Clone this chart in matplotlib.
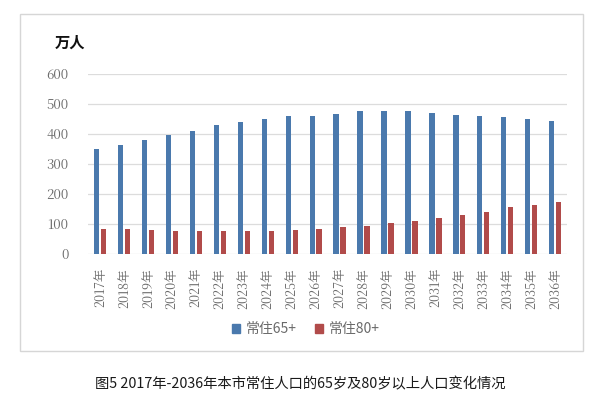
import matplotlib
matplotlib.use("Agg")
import matplotlib.pyplot as plt
import numpy as np
from matplotlib.patches import Rectangle, Patch

plt.rcParams['font.family'] = ['Noto Sans CJK SC', 'DejaVu Sans']

years = [f"{y}年" for y in range(2017, 2037)]
pop65 = [350, 362, 381, 397, 411, 429, 441, 449, 459, 459,
         466, 476, 476, 476, 470, 463, 461, 456, 451, 443]
pop80 = [83, 82, 80, 77, 77, 77, 77, 77, 80, 82,
         90, 94, 102, 110, 121, 130, 140, 156, 164, 172]
series_names = ["常住65+", "常住80+"]
yticks = [0, 100, 200, 300, 400, 500, 600]
unit_label = "万人"
caption = "图5 2017年-2036年本市常住人口的65岁及80岁以上人口变化情况"

c_blue = "#4a79ad"
c_red = "#b14b4a"

fig = plt.figure(figsize=(6.0, 3.96), dpi=100)
fig.patch.set_facecolor("white")

# chart frame
fig.patches.append(Rectangle((20/600, 1-351/396), (583-20)/600, (351-14)/396,
                             transform=fig.transFigure, fill=False,
                             edgecolor="#d6d6d6", linewidth=1.0))

ax = fig.add_axes([88/600, 1-254/396, (567-88)/600, (254-74)/396])
x = np.arange(len(years))
w = 0.22
ax.bar(x - 0.14, pop65, width=w, color=c_blue, zorder=3)
ax.bar(x + 0.15, pop80, width=w, color=c_red, zorder=3)

ax.set_xlim(-0.5, len(years) - 0.5)
ax.set_ylim(0, 600)
ax.tick_params(axis='both', length=0)
ax.tick_params(axis='y', pad=14)
ax.tick_params(axis='x', pad=10)
ax.set_yticks(yticks)
ax.set_yticklabels([str(v) for v in yticks])
ax.set_xticks(x)
ax.set_xticklabels(years)
for s in ax.spines.values():
    s.set_visible(False)
ax.grid(axis='y', color="#dcdcdc", linewidth=0.9, zorder=0)
ax.set_axisbelow(True)

for t in ax.get_yticklabels():
    t.set_fontfamily('Noto Serif CJK JP')
    t.set_fontsize(9.5)
    t.set_color("#6a6a6a")
for t in ax.get_xticklabels():
    t.set_fontfamily('Noto Serif CJK JP')
    t.set_fontsize(9)
    t.set_color("#6a6a6a")
    t.set_rotation(90)
    t.set_va('top')
    t.set_ha('center')

fig.text(55/600, 1-43/396, unit_label, fontsize=11, fontweight='bold',
         color="#111111", ha='left', va='center')

handles = [Patch(color=c_blue), Patch(color=c_red)]
fig.legend(handles, series_names, loc='center', bbox_to_anchor=(306/600, 1-329/396),
           ncol=2, frameon=False, fontsize=10, handlelength=0.6, handleheight=0.6,
           handletextpad=0.4, columnspacing=1.3, labelcolor="#6a6a6a")

fig.text(300/600, 1-384/396, caption, fontsize=10.3, color="#1a1a1a",
         ha='center', va='center')

fig.savefig("out.png", dpi=100, facecolor="white")
